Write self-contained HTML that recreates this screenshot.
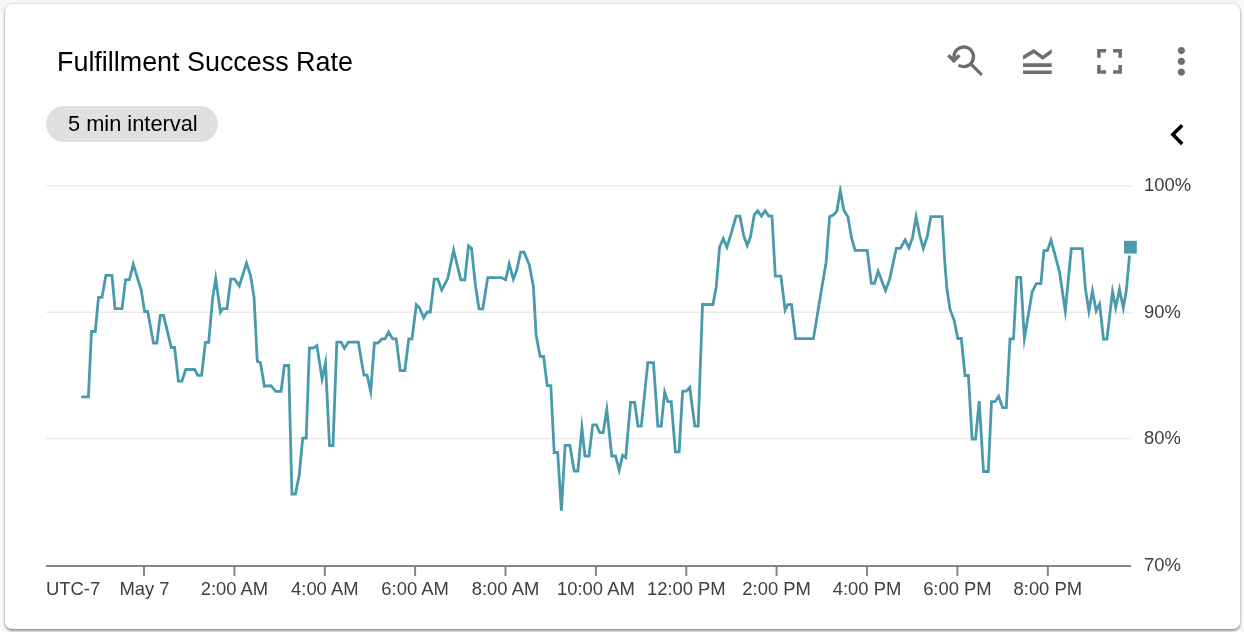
<!DOCTYPE html>
<html><head><meta charset="utf-8">
<style>
html,body{margin:0;padding:0;width:1244px;height:632px;overflow:hidden;background:#f8f8f8;}
body{font-family:"Liberation Sans",sans-serif;position:relative;}
.title,.chip span,svg{will-change:transform;}
.card{position:absolute;left:5px;top:4px;width:1235px;height:624.5px;background:#fff;border-radius:7px;
box-shadow:0 0 0 1px rgba(0,0,0,.05),0 0 4px 1px rgba(0,0,0,.04),0 2px 2.5px rgba(0,0,0,.36);}
.title{position:absolute;left:57px;top:47px;font-size:26.9px;color:#000;white-space:nowrap;line-height:30px;}
.chip{position:absolute;left:46px;top:106px;width:172px;height:35.5px;border-radius:18px;background:#e0e0e0;}
.chip span{position:absolute;left:22px;top:6.5px;font-size:21.8px;line-height:22px;color:#000;white-space:nowrap;}
svg{position:absolute;left:0;top:0;}
.lbl{font-family:"Liberation Sans",sans-serif;font-size:18.4px;fill:#3c4043;}
</style></head><body>
<div class="card"></div>
<div class="title">Fulfillment Success Rate</div>
<div class="chip"><span>5 min interval</span></div>
<svg width="1244" height="632" viewBox="0 0 1244 632">
  <g fill="#6e6e6e">
    <g fill="none" stroke="#6e6e6e" stroke-width="3.3"><path d="M953.9 60 L953.9 56.8 A9.80 9.80 0 1 1 958.51 65.11"/><path d="M948.3 55.2 L953.85 60.75 L959.4 55.2" stroke-width="3.4"/><path d="M970.3 63.4 L981.7 74.85" stroke-width="3.1"/></g>
    <g transform="translate(1015.9,40.1) scale(1.79)"><path d="M20 15H4v-2h16v2zm0 2H4v2h16v-2zm-5-6l5-3.55V5l-5 3.55L10 5 4 8.66V11l6-3.66L15 11z"/></g>
    <g transform="translate(1088.3,40.1) scale(1.77)"><path d="M7 14H5v5h5v-2H7v-3zm-2-4h2V7h3V5H5v5zm12 7h-3v2h5v-5h-2v3zM14 5v2h3v3h2V5h-5z"/></g>
    <g transform="translate(1159.8,39.8) scale(1.8)"><path d="M12 8c1.1 0 2-.9 2-2s-.9-2-2-2-2 .9-2 2 .9 2 2 2zm0 2c-1.1 0-2 .9-2 2s.9 2 2 2 2-.9 2-2-.9-2-2-2zm0 6c-1.1 0-2 .9-2 2s.9 2 2 2 2-.9 2-2-.9-2-2-2z"/></g>
  </g>
  <g transform="translate(1156.2,113.3) scale(1.77)"><path d="M15.41 7.41L14 6l-6 6 6 6 1.41-1.41L10.83 12z" fill="#000"/></g>
  <!-- grid -->
  <g stroke="#eaeaea" stroke-width="1.5">
    <line x1="46.5" y1="186" x2="1131" y2="186"/>
    <line x1="46" y1="312.2" x2="1131" y2="312.2"/>
    <line x1="46" y1="438.5" x2="1131" y2="438.5"/>
  </g>
  <line x1="46" y1="566" x2="1131" y2="566" stroke="#80868b" stroke-width="2"/>
  <g stroke="#80868b" stroke-width="2">
    <line x1="144.0" y1="566" x2="144.0" y2="576"/>
    <line x1="234.4" y1="566" x2="234.4" y2="576"/>
    <line x1="324.8" y1="566" x2="324.8" y2="576"/>
    <line x1="415.1" y1="566" x2="415.1" y2="576"/>
    <line x1="505.5" y1="566" x2="505.5" y2="576"/>
    <line x1="595.9" y1="566" x2="595.9" y2="576"/>
    <line x1="686.3" y1="566" x2="686.3" y2="576"/>
    <line x1="776.6" y1="566" x2="776.6" y2="576"/>
    <line x1="867.0" y1="566" x2="867.0" y2="576"/>
    <line x1="957.4" y1="566" x2="957.4" y2="576"/>
    <line x1="1047.8" y1="566" x2="1047.8" y2="576"/>
  </g>
  <g class="lbl">
    <text x="1144" y="191">100%</text>
    <text x="1144" y="317.5">90%</text>
    <text x="1144" y="444">80%</text>
    <text x="1144" y="571">70%</text>
    <text x="46" y="595">UTC-7</text>
    <g text-anchor="middle">
    <text x="144.5" y="595">May 7</text>
    <text x="234.4" y="595">2:00 AM</text>
    <text x="324.8" y="595">4:00 AM</text>
    <text x="415.1" y="595">6:00 AM</text>
    <text x="505.5" y="595">8:00 AM</text>
    <text x="595.9" y="595">10:00 AM</text>
    <text x="686.3" y="595">12:00 PM</text>
    <text x="776.6" y="595">2:00 PM</text>
    <text x="867.0" y="595">4:00 PM</text>
    <text x="957.4" y="595">6:00 PM</text>
    <text x="1047.8" y="595">8:00 PM</text>
    </g>
  </g>
  <defs><clipPath id="pc"><rect x="40" y="185.2" width="1100" height="390"/></clipPath></defs>
  <polyline clip-path="url(#pc)" fill="none" stroke="#489aac" stroke-width="2.8" stroke-linejoin="miter" stroke-miterlimit="10" points="81.3,396.8 88.4,396.8 91.5,331.5 95.3,331.5 98.5,297.3 102.0,297.3 105.9,275.3 112.0,275.3 115.0,308.7 122.0,308.7 125.6,279.6 129.4,279.6 133.3,264.3 141.3,290.5 144.6,311.5 147.7,311.5 153.5,343.2 156.8,343.2 160.3,315.3 163.6,315.3 171.3,347.5 174.6,347.5 178.4,381.1 181.9,381.1 185.7,369.5 194.6,369.5 197.8,375.3 201.6,375.3 205.4,342.4 208.7,342.4 212.5,299.4 215.7,278.6 220.4,312.3 222.7,308.7 227.0,308.7 230.8,279.1 234.6,279.1 239.3,285.9 246.5,263.1 250.5,275.3 254.0,296.8 257.3,361.4 260.4,362.7 264.4,386.2 270.9,385.7 275.8,391.3 281.1,391.3 284.4,365.5 288.7,365.5 291.9,494.0 295.4,494.0 299.2,475.2 302.7,438.1 306.2,438.1 309.4,348.0 313.4,348.0 316.9,345.6 322.1,379.1 325.5,363.0 329.5,445.7 333.0,445.7 336.8,342.1 341.1,342.1 344.4,348.3 348.4,342.1 358.3,342.1 363.9,375.2 367.1,375.2 370.7,391.5 374.4,343.0 377.9,343.0 381.9,338.9 385.1,338.9 388.6,332.2 392.7,338.9 396.2,338.9 400.2,370.7 404.8,370.7 408.8,338.9 412.0,338.9 416.3,304.8 419.6,308.0 423.7,317.9 427.1,312.0 430.3,312.0 434.3,279.2 437.8,279.2 441.7,290.1 447.8,278.4 453.6,250.2 460.8,279.8 464.8,279.8 468.5,245.8 471.5,248.3 475.6,286.5 479.0,308.8 482.8,308.8 487.7,277.6 501.1,277.6 505.7,279.8 509.2,263.9 513.3,279.1 516.7,270.3 520.7,252.1 524.0,252.1 529.3,265.0 533.4,286.5 536.1,334.9 540.1,356.4 543.6,356.4 547.2,385.6 550.8,385.6 554.2,452.5 557.7,452.5 561.4,510.7 565.1,445.4 569.9,445.4 574.2,471.0 577.9,471.0 581.9,427.7 585.0,456.2 589.0,456.2 592.7,424.9 596.4,424.9 599.8,432.6 603.2,432.6 606.8,409.5 611.8,456.0 615.5,456.0 619.2,470.1 622.6,455.4 625.7,457.7 630.6,402.4 634.6,402.4 638.0,426.1 641.3,426.1 647.8,362.6 653.5,362.6 657.8,426.1 661.2,426.1 664.7,392.1 667.8,401.6 671.2,401.6 675.4,451.8 679.1,451.8 682.6,391.1 686.3,391.1 689.7,387.4 694.8,426.1 698.2,426.1 702.5,304.5 713.0,304.5 716.3,286.2 719.6,247.0 723.3,238.5 726.9,247.2 731.5,232.5 736.1,216.1 739.9,216.1 743.7,235.6 747.2,245.4 750.5,236.8 754.3,214.6 757.6,210.8 761.4,216.1 765.2,210.8 768.7,216.1 772.0,216.1 775.3,276.1 780.9,276.1 785.1,310.0 787.7,304.7 791.5,304.7 795.6,338.7 813.4,338.7 822.9,281.2 826.1,262.4 829.6,216.7 833.6,214.8 836.8,211.3 840.3,190.4 843.8,210.0 847.9,216.7 851.6,238.2 855.1,250.3 867.2,250.3 871.3,283.4 874.5,283.4 878.1,271.2 885.5,290.6 889.6,279.4 896.3,248.4 900.4,248.4 905.1,239.9 908.9,247.8 912.5,237.7 916.1,216.5 919.7,235.0 923.3,248.4 927.3,236.3 930.8,216.7 942.1,216.7 944.8,261.9 946.9,288.8 950.1,309.7 954.2,320.5 957.8,338.5 961.3,338.5 965.0,375.5 968.4,375.5 972.1,439.0 975.5,439.0 979.2,401.1 983.5,471.5 988.3,471.5 991.5,401.7 994.9,401.7 998.6,396.3 1002.6,407.7 1006.3,407.7 1010.0,338.8 1013.5,338.8 1016.8,277.4 1020.7,277.4 1024.4,338.5 1032.2,291.8 1036.3,283.6 1040.9,283.6 1043.9,250.7 1047.4,250.7 1051.0,240.0 1059.4,271.3 1065.3,310.9 1071.3,248.6 1082.2,248.6 1085.4,288.9 1088.9,311.2 1092.4,290.8 1096.2,310.8 1099.6,303.9 1103.5,339.2 1106.9,339.2 1112.5,291.6 1115.7,307.7 1119.5,289.3 1123.3,307.8 1126.3,290.8 1129.5,255.6"/>
  <rect x="1124" y="240.8" width="12.8" height="12.8" fill="#489aac"/>
</svg>
</body></html>
